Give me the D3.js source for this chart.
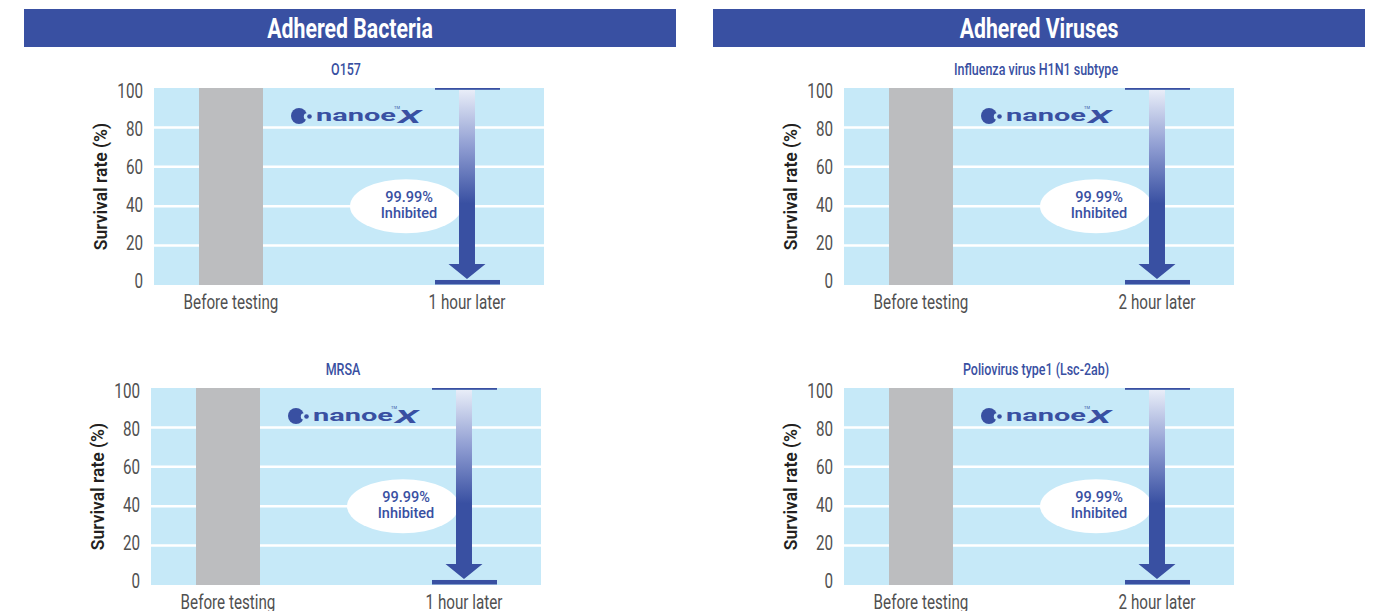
<!DOCTYPE html>
<html>
<head>
<meta charset="utf-8">
<script src="https://cdn.jsdelivr.net/npm/d3@7"></script>
<style>
  body { margin: 0; background: #fff; }
  text { font-family: Roboto, "Noto Sans", sans-serif; }
</style>
</head>
<body>
<svg id="chart" width="1373" height="611"></svg>
<script>
// data
var groupTitles = ["Adhered Bacteria", "Adhered Viruses"];
var subtitles = ["O157", "Influenza virus H1N1 subtype", "MRSA", "Poliovirus type1 (Lsc-2ab)"];
var categories = ["Before testing", "After"];
var afterLabels = ["1 hour later", "2 hour later", "1 hour later", "2 hour later"];
var beforeValues = [100, 100, 100, 100];
var afterValues = [0.01, 0.01, 0.01, 0.01];
var inhibitedRates = ["99.99%", "99.99%", "99.99%", "99.99%"];
var yTicks = [0, 20, 40, 60, 80, 100];

var blue = "#3950a2",
    sky = "#c6e9f8",
    grey = "#bcbdbf",
    labelGrey = "#505050";

var svg = d3.select("#chart");
var plotW = 390, plotH = 197;
// panel origins (top-left of the light blue plot area)
var panelX = [154, 844, 151, 844],
    panelY = [88, 88, 388, 388];

// squeeze text to look like a condensed face
function condense(sel, k) {
  sel.each(function() {
    var w = this.getComputedTextLength();
    d3.select(this).attr("textLength", w * k).attr("lengthAdjust", "spacingAndGlyphs");
  });
}

// arrow gradient
var defs = svg.append("defs");
var grad = defs.append("linearGradient")
    .attr("id", "arrowGrad")
    .attr("x1", 0).attr("y1", 0).attr("x2", 0).attr("y2", 1);
grad.append("stop").attr("offset", 0).attr("stop-color", "#e8edf8");
grad.append("stop").attr("offset", 0.3).attr("stop-color", "#8f9dd2");
grad.append("stop").attr("offset", 0.6).attr("stop-color", blue);
grad.append("stop").attr("offset", 1).attr("stop-color", blue);

// banners
var banner = d3.scaleBand().domain(groupTitles).range([24, 1365]).paddingInner(37 / 689);
var bannerG = svg.selectAll(".banner")
    .data(groupTitles)
  .enter().append("g")
    .attr("class", "banner");
bannerG.append("rect")
    .attr("x", function(d) { return banner(d); })
    .attr("y", 9)
    .attr("width", banner.bandwidth())
    .attr("height", 38)
    .attr("fill", blue);
bannerG.append("text")
    .attr("x", function(d) { return banner(d) + banner.bandwidth() / 2; })
    .attr("y", 38)
    .attr("text-anchor", "middle")
    .attr("fill", "#fff")
    .attr("font-size", 28)
    .attr("font-weight", 700)
    .text(function(d) { return d; })
    .call(condense, 0.76);

var y = d3.scaleLinear().domain([0, 100]).range([plotH, 0]);
// tick labels sit slightly inside the plot edges
var yLab = y.copy().range([plotH - 4, 3]);
var x = d3.scaleBand().domain(categories).range([0, plotW])
    .paddingInner(0.7288).paddingOuter(0.1907);

subtitles.forEach(function(sub, i) {
  var g = svg.append("g")
      .attr("transform", "translate(" + panelX[i] + "," + panelY[i] + ")");

  g.append("rect")
      .attr("width", plotW)
      .attr("height", plotH)
      .attr("fill", sky);

  // gridlines
  g.selectAll(".grid")
      .data(yTicks.filter(function(t) { return t > 0 && t < 100; }))
    .enter().append("line")
      .attr("x1", 0).attr("x2", plotW)
      .attr("y1", function(d) { return y(d); })
      .attr("y2", function(d) { return y(d); })
      .attr("stroke", "#fff")
      .attr("stroke-width", 2.5);

  // before bar
  g.append("rect")
      .attr("x", x(categories[0]))
      .attr("y", y(beforeValues[i]))
      .attr("width", x.bandwidth())
      .attr("height", plotH - y(beforeValues[i]))
      .attr("fill", grey);

  // after: start level, arrow, end level
  var cx = x(categories[1]) + x.bandwidth() / 2,
      top = y(beforeValues[i]),
      bot = y(afterValues[i]) - 5;

  // ellipse callout
  var ex = cx - 61, ey = y(40);
  g.append("ellipse")
      .attr("cx", ex).attr("cy", ey)
      .attr("rx", 56).attr("ry", 27)
      .attr("fill", "#fff");
  [inhibitedRates[i], "Inhibited"].forEach(function(t, j) {
    g.append("text")
        .attr("x", ex + 3).attr("y", ey - 4 + j * 16)
        .attr("text-anchor", "middle")
        .attr("fill", blue)
        .attr("font-size", 14.5)
        .attr("font-weight", 500)
        .attr("font-family", "'Open Sans', sans-serif")
        .text(t);
  });

  var sw = 8, hw = 18.5, hh = 16;
  var arrow = d3.path();
  arrow.moveTo(cx - sw, top + 2);
  arrow.lineTo(cx + sw, top + 2);
  arrow.lineTo(cx + sw, bot - hh);
  arrow.lineTo(cx + hw, bot - hh);
  arrow.lineTo(cx, bot - 1);
  arrow.lineTo(cx - hw, bot - hh);
  arrow.lineTo(cx - sw, bot - hh);
  arrow.closePath();
  g.append("path")
      .attr("d", arrow.toString())
      .attr("fill", "url(#arrowGrad)");

  g.append("rect")
      .attr("x", x(categories[1]))
      .attr("y", top)
      .attr("width", x.bandwidth() + 1)
      .attr("height", 1.8)
      .attr("fill", blue);
  g.append("rect")
      .attr("x", x(categories[1]))
      .attr("y", bot)
      .attr("width", x.bandwidth() + 1)
      .attr("height", 4.5)
      .attr("fill", blue);

  // nanoe X logo
  var logo = g.append("g").attr("transform", "translate(145,28)");
  logo.append("circle").attr("r", 8).attr("fill", blue);
  logo.append("circle").attr("cx", 8).attr("cy", 0.5).attr("r", 3.2).attr("fill", sky);
  logo.append("circle").attr("cx", 10.5).attr("cy", 0.5).attr("r", 2.3).attr("fill", blue);
  logo.append("text")
      .attr("x", 17).attr("y", 5)
      .attr("fill", blue)
      .attr("font-size", 17)
      .attr("font-weight", 700)
      .attr("font-family", "'DejaVu Sans', sans-serif")
      .attr("textLength", 80)
      .attr("lengthAdjust", "spacingAndGlyphs")
      .text("nanoe");
  logo.append("text")
      .attr("x", 99).attr("y", 6.5)
      .attr("fill", blue)
      .attr("font-size", 19)
      .attr("font-weight", 700)
      .attr("font-style", "italic")
      .attr("font-family", "'DejaVu Sans', sans-serif")
      .attr("textLength", 23)
      .attr("lengthAdjust", "spacingAndGlyphs")
      .text("X");
  logo.append("text")
      .attr("x", 95).attr("y", -7)
      .attr("fill", blue)
      .attr("font-size", 4)
      .text("TM");

  // y axis labels
  var yAxis = g.append("g")
      .call(d3.axisLeft(yLab).tickValues(yTicks).tickSize(0).tickPadding(11));
  yAxis.select(".domain").remove();
  yAxis.selectAll("text")
      .attr("fill", labelGrey)
      .attr("font-size", 20)
      .attr("font-family", "Roboto, sans-serif")
      .call(condense, 0.76);

  g.append("text")
      .attr("transform", "translate(-47," + (plotH / 2) + ") rotate(-90)")
      .attr("text-anchor", "middle")
      .attr("fill", "#231f20")
      .attr("font-size", 17.5)
      .attr("font-weight", 600)
      .attr("font-family", "'Open Sans', sans-serif")
      .text("Survival rate (%)");

  // subtitle
  g.append("text")
      .attr("x", plotW / 2 - 3)
      .attr("y", -13)
      .attr("text-anchor", "middle")
      .attr("fill", blue)
      .attr("font-size", 16)
      .attr("font-weight", 500)
      .text(sub)
      .call(condense, 0.78);

  // category labels
  g.selectAll(".xlab")
      .data([categories[0], afterLabels[i]])
    .enter().append("text")
      .attr("x", function(d, j) { return x(categories[j]) + x.bandwidth() / 2; })
      .attr("y", plotH + 24)
      .attr("text-anchor", "middle")
      .attr("fill", labelGrey)
      .attr("font-size", 20)
      .text(function(d) { return d; })
      .call(condense, 0.76);
});
</script>
</body>
</html>
